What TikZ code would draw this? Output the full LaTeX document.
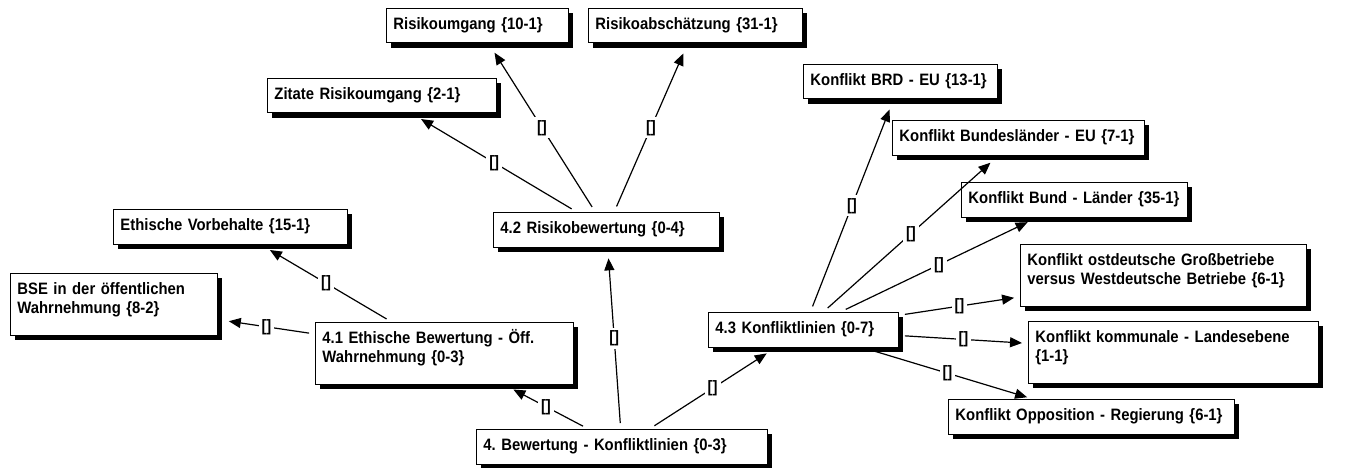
\documentclass[tikz,border=0pt]{standalone}
\usepackage{fontspec}
\setmainfont{Liberation Sans}[FakeStretch=0.9]
\usetikzlibrary{arrows.meta}

\begin{document}
\begin{tikzpicture}[x=1pt,y=-1pt,
    font=\bfseries\fontsize{16.5}{19}\selectfont\frenchspacing,
    codebox/.style={draw=black,line width=0.9pt,fill=white,anchor=north west,
      align=left,text width=#1,inner xsep=7pt,inner ysep=9pt,
      text height=12.5pt,text depth=4pt,
      preaction={fill=black,transform canvas={xshift=5pt,yshift=-5pt}}},
    twoline/.style={text depth=31pt},
    link/.style={-{Triangle[length=12pt,width=10pt]},line width=1.2pt,
      shorten <=6pt,shorten >=11pt},
    tag/.style={fill=white,inner sep=3pt,text height=12pt,text depth=3pt}
  ]
  \useasboundingbox (0,0) rectangle (1372,468);

  % codes
  \node[codebox=168pt] (umgang) at (386,8) {Risikoumgang {\{}10-1{\}}};
  \node[codebox=200pt] (abschaetz) at (588,8) {Risikoabschätzung {\{}31-1{\}}};
  \node[codebox=215pt] (zitate) at (267,78) {Zitate Risikoumgang {\{}2-1{\}}};
  \node[codebox=212pt] (rbew) at (493,212) {4.2 Risikobewertung {\{}0-4{\}}};
  \node[codebox=220pt] (vorbeh) at (113,209) {Ethische Vorbehalte {\{}15-1{\}}};
  \node[codebox=193pt,twoline] (bse) at (10,273) {BSE in der öffentlichen\\Wahrnehmung {\{}8-2{\}}};
  \node[codebox=244pt,twoline] (ethbew) at (315,322) {4.1 Ethische Bewertung - Öff.\\Wahrnehmung {\{}0-3{\}}};
  \node[codebox=277pt] (bewert) at (476,429) {4. Bewertung - Konfliktlinien {\{}0-3{\}}};
  \node[codebox=176pt] (konfl) at (708,312) {4.3 Konfliktlinien {\{}0-7{\}}};
  \node[codebox=180pt] (brd) at (803,64) {Konflikt BRD - EU {\{}13-1{\}}};
  \node[codebox=238pt] (blaender) at (892,120) {Konflikt Bundesländer - EU {\{}7-1{\}}};
  \node[codebox=212pt] (bund) at (961,182) {Konflikt Bund - Länder {\{}35-1{\}}};
  \node[codebox=272pt,twoline] (gross) at (1020,244) {Konflikt ostdeutsche Großbetriebe\\versus Westdeutsche Betriebe {\{}6-1{\}}};
  \node[codebox=276pt,twoline] (kommunal) at (1028,321) {Konflikt kommunale - Landesebene\\{\{}1-1{\}}};
  \node[codebox=272pt] (oppos) at (948,399) {Konflikt Opposition - Regierung {\{}6-1{\}}};

  % links
  \draw[link] (bewert) -- node[tag]{[]} (ethbew);
  \draw[link] (bewert) -- node[tag]{[]} (rbew);
  \draw[link] (bewert) -- node[tag]{[]} (konfl);
  \draw[link] (ethbew) -- node[tag]{[]} (bse);
  \draw[link] (ethbew) -- node[tag]{[]} (vorbeh);
  \draw[link] (rbew) -- node[tag]{[]} (zitate);
  \draw[link] (rbew) -- node[tag]{[]} (umgang);
  \draw[link] (rbew) -- node[tag]{[]} (abschaetz);
  \draw[link] (konfl) -- node[tag]{[]} (brd);
  \draw[link] (konfl) -- node[tag]{[]} (blaender);
  \draw[link] (konfl) -- node[tag]{[]} (bund);
  \draw[link,shorten >=6pt] (konfl) -- node[tag]{[]} (gross);
  \draw[link,shorten >=6pt] (konfl) -- node[tag]{[]} (kommunal);
  \draw[link,shorten >=6pt] (konfl) -- node[tag]{[]} (oppos);
\end{tikzpicture}
\end{document}
